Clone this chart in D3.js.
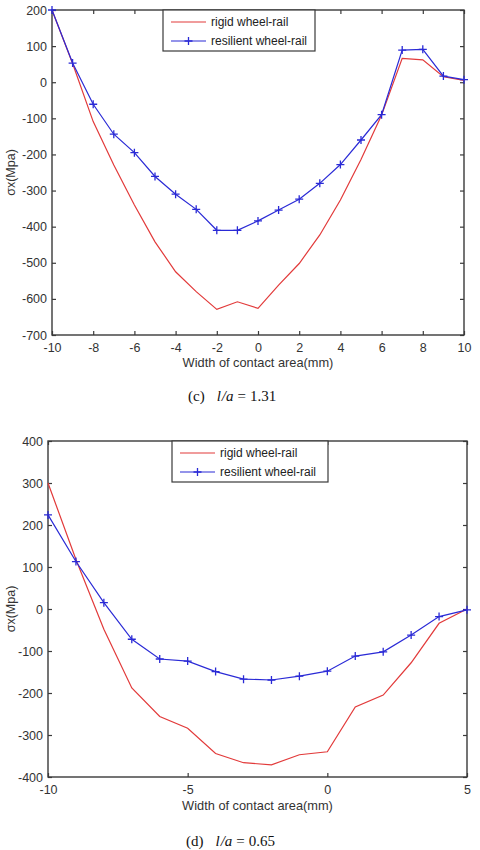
<!DOCTYPE html>
<html>
<head>
<meta charset="utf-8">
<script src="https://d3js.org/d3.v7.min.js"></script>
<style>
  body { margin: 0; background: #fff; }
  svg text { font-family: "Liberation Sans", Arial, sans-serif; }
</style>
</head>
<body>
<svg id="canvas" width="480" height="850"></svg>
<script>
// ---- data ----
var seriesNames = ["rigid wheel-rail", "resilient wheel-rail"];

// (c) l/a = 1.31
var topX = [-10, -9, -8, -7, -6, -5, -4, -3, -2, -1, 0, 1, 2, 3, 4, 5, 6, 7, 8, 9, 10];
var topRigid = [200, 52, -109, -229, -340, -442, -525, -580, -629, -608, -626, -562, -502, -423, -326, -214, -91, 66, 62, 15, 5];
var topResilient = [200, 53, -61, -144, -195, -261, -310, -352, -410, -410, -384, -354, -324, -280, -228, -160, -90, 89, 91, 17, 7];
var topXTicks = [-10, -8, -6, -4, -2, 0, 2, 4, 6, 8, 10];
var topYTicks = [-700, -600, -500, -400, -300, -200, -100, 0, 100, 200];

// (d) l/a = 0.65
var botX = [-10, -9, -8, -7, -6, -5, -4, -3, -2, -1, 0, 1, 2, 3, 4, 5];
var botRigid = [300, 118, -48, -188, -256, -284, -344, -366, -371, -347, -340, -233, -205, -128, -34, 0];
var botResilient = [224, 113, 15, -72, -119, -124, -149, -167, -169, -160, -148, -112, -102, -62, -18, -2];
var botXTicks = [-10, -5, 0, 5];
var botYTicks = [-400, -300, -200, -100, 0, 100, 200, 300, 400];

var colors = ["#e23a3a", "#2a2ad6"];
var axisColor = "#3a3a3a";
var textColor = "#333";

var canvas = d3.select("#canvas");

function drawPanel(opt) {
    var g = canvas.append("g");
    var x = d3.scaleLinear().domain(opt.xDomain).range([opt.left, opt.right]);
    var y = d3.scaleLinear().domain(opt.yDomain).range([opt.bottom, opt.top]);

    // frame
    g.append("rect")
        .attr("x", opt.left).attr("y", opt.top)
        .attr("width", opt.right - opt.left).attr("height", opt.bottom - opt.top)
        .style("fill", "none").style("stroke", axisColor).style("stroke-width", 1.4);

    // axes with inward ticks
    var ax = g.append("g").attr("transform", "translate(0," + opt.bottom + ")")
        .call(d3.axisBottom(x).tickValues(opt.xTicks).tickSizeInner(-4).tickSizeOuter(0).tickPadding(8));
    var ay = g.append("g").attr("transform", "translate(" + opt.left + ",0)")
        .call(d3.axisLeft(y).tickValues(opt.yTicks).tickSizeInner(-4).tickSizeOuter(0).tickPadding(5));
    var axt = g.append("g").attr("transform", "translate(0," + opt.top + ")")
        .call(d3.axisTop(x).tickValues(opt.xTicks).tickSizeInner(-4).tickSizeOuter(0).tickFormat(""));
    var ayr = g.append("g").attr("transform", "translate(" + opt.right + ",0)")
        .call(d3.axisRight(y).tickValues(opt.yTicks).tickSizeInner(-4).tickSizeOuter(0).tickFormat(""));

    [ax, ay, axt, ayr].forEach(function (a) {
        a.select(".domain").remove();
        a.selectAll("line").style("stroke", axisColor).style("stroke-width", 1.2);
        a.selectAll("text").style("fill", textColor).style("font-size", "12.5px")
            .style("font-family", "'Liberation Sans', Arial, sans-serif");
    });
    ax.selectAll("text").text(function (d) { return d3.format("d")(d).replace("−", "-"); });
    ay.selectAll("text").text(function (d) { return d3.format("d")(d).replace("−", "-"); });

    // lines
    var line = d3.line().x(function (d) { return x(d[0]); }).y(function (d) { return y(d[1]); });
    var rigid = opt.xs.map(function (v, i) { return [v, opt.rigid[i]]; });
    var resil = opt.xs.map(function (v, i) { return [v, opt.resilient[i]]; });

    g.append("path").attr("d", line(rigid))
        .style("fill", "none").style("stroke", colors[0]).style("stroke-width", 1.2);
    g.append("path").attr("d", line(resil))
        .style("fill", "none").style("stroke", colors[1]).style("stroke-width", 1.2);

    g.selectAll(".mk").data(resil).enter().append("path")
        .attr("transform", function (d) { return "translate(" + x(d[0]) + "," + y(d[1]) + ")"; })
        .attr("d", "M-4,0H4M0,-4V4")
        .style("stroke", colors[1]).style("stroke-width", 1.3);

    // axis labels
    g.append("text")
        .attr("x", (opt.left + opt.right) / 2).attr("y", opt.xLabelY)
        .attr("text-anchor", "middle")
        .style("font-size", "12.8px").style("fill", textColor)
        .text("Width of contact area(mm)");

    g.append("text")
        .attr("transform", "translate(" + 15 + "," + (opt.top + opt.bottom) / 2 + ") rotate(-90)")
        .attr("text-anchor", "middle")
        .style("font-size", "12.5px").style("fill", textColor)
        .text("σx(Mpa)");

    // legend
    var lg = g.append("g");
    lg.append("rect")
        .attr("x", opt.legX).attr("y", opt.top)
        .attr("width", opt.legW).attr("height", 41)
        .style("fill", "#fff").style("stroke", axisColor).style("stroke-width", 1.2);
    seriesNames.forEach(function (name, i) {
        var ly = opt.top + 12 + i * 19;
        lg.append("line")
            .attr("x1", opt.legX + 8).attr("x2", opt.legX + 43)
            .attr("y1", ly).attr("y2", ly)
            .style("stroke", colors[i]).style("stroke-width", 1.2);
        if (i == 1) {
            lg.append("path")
                .attr("transform", "translate(" + (opt.legX + 25.5) + "," + ly + ")")
                .attr("d", "M-4,0H4M0,-4V4")
                .style("stroke", colors[1]).style("stroke-width", 1.3);
        }
        lg.append("text")
            .attr("x", opt.legX + 48).attr("y", ly + 4)
            .style("font-size", "12px").style("fill", "#222")
            .text(name);
    });

    // caption
    var cap = canvas.append("text")
        .attr("x", opt.capX).attr("y", opt.capY)
        .style("font-family", "'Liberation Serif', 'Times New Roman', serif")
        .style("font-size", "15px").style("fill", "#111");
    cap.append("tspan").text("(" + opt.tag + ")");
    cap.append("tspan").attr("dx", 12).style("font-style", "italic").text("l");
    cap.append("tspan").style("font-style", "italic").attr("dx", 1).text("/");
    cap.append("tspan").style("font-style", "italic").text("a");
    cap.append("tspan").attr("dx", 4).text("=");
    cap.append("tspan").attr("dx", 4).text(opt.ratio);
}

drawPanel({
    xDomain: [-10, 10], yDomain: [-700, 200],
    left: 52, right: 464, top: 10, bottom: 335,
    xTicks: topXTicks, yTicks: topYTicks,
    xs: topX, rigid: topRigid, resilient: topResilient,
    xLabelY: 367, legX: 163, legW: 152,
    capX: 188, capY: 401, tag: "c", ratio: "1.31"
});

drawPanel({
    xDomain: [-10, 5], yDomain: [-400, 400],
    left: 48, right: 467, top: 441, bottom: 777,
    xTicks: botXTicks, yTicks: botYTicks,
    xs: botX, rigid: botRigid, resilient: botResilient,
    xLabelY: 810, legX: 172, legW: 156,
    capX: 186, capY: 846, tag: "d", ratio: "0.65"
});
</script>
</body>
</html>
